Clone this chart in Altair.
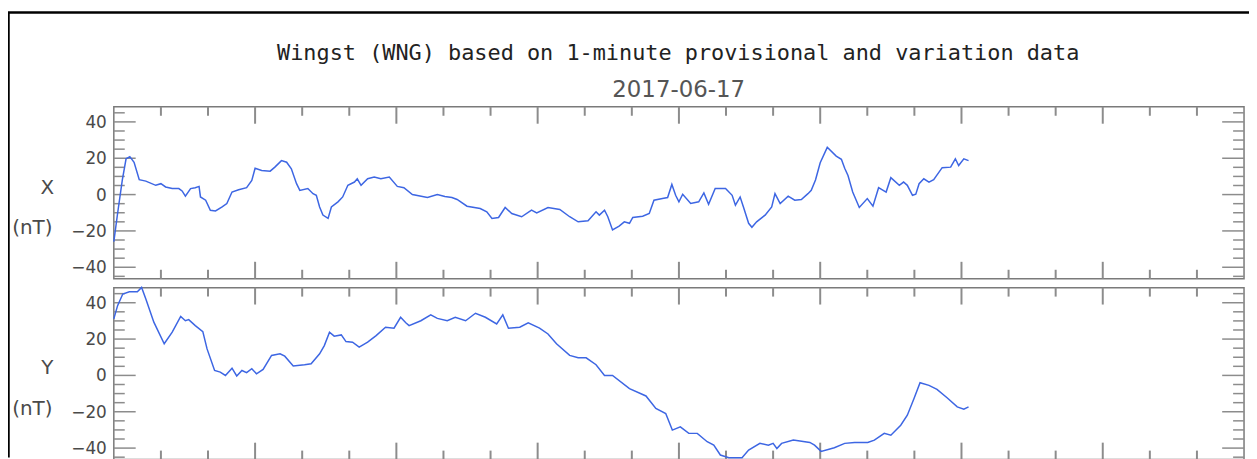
import altair as alt
import pandas as pd

# ---------------- data ----------------
title_text = "Wingst (WNG) based on 1-minute provisional and variation data"
date_text = "2017-06-17"
panel_names = ["X", "Y"]
unit_text = "(nT)"

x_hours = [0.00, 0.08, 0.18, 0.26, 0.34, 0.43, 0.54, 0.68, 0.89, 1.00, 1.10, 1.24, 1.38, 1.45,
           1.52, 1.63, 1.73, 1.81, 1.84, 1.95, 2.05, 2.16, 2.30, 2.40, 2.51, 2.65, 2.82, 2.93,
           3.00, 3.14, 3.32, 3.42, 3.56, 3.67, 3.77, 3.88, 3.95, 4.12, 4.23, 4.30, 4.37, 4.44,
           4.55, 4.62, 4.76, 4.86, 4.97, 5.11, 5.17, 5.25, 5.39, 5.53, 5.67, 5.85, 6.02, 6.16,
           6.34, 6.50, 6.66, 6.87, 7.03, 7.18, 7.29, 7.50, 7.78, 7.92, 8.03, 8.17, 8.31, 8.45,
           8.66, 8.87, 8.98, 9.22, 9.47, 9.68, 9.86, 10.07, 10.24, 10.31, 10.42, 10.49, 10.59,
           10.73, 10.84, 10.95, 11.02, 11.23, 11.37, 11.47, 11.65, 11.76, 11.85, 11.93, 12.00,
           12.08, 12.25, 12.42, 12.53, 12.63, 12.77, 12.99, 13.13, 13.20, 13.30, 13.37, 13.48,
           13.55, 13.65, 13.83, 13.97, 14.04, 14.15, 14.32, 14.46, 14.60, 14.74, 14.81, 14.90,
           15.00, 15.15, 15.34, 15.45, 15.52, 15.59, 15.69, 15.83, 16.00, 16.12, 16.24, 16.40,
           16.50, 16.68, 16.77, 16.85, 16.96, 17.03, 17.10, 17.20, 17.31, 17.41, 17.59, 17.77,
           17.87, 17.94, 18.05, 18.15]
x_values = [-25.9, -10.4, 8.0, 19.7, 20.9, 17.8, 8.2, 7.4, 5.1, 6.0, 4.2, 3.3, 3.3, 2.0,
            -0.9, 3.3, 3.8, 4.5, -1.3, -3.1, -8.6, -9.0, -6.8, -4.9, 1.4, 2.7, 3.8, 7.8,
            14.5, 13.3, 12.9, 15.1, 18.7, 17.8, 14.2, 6.0, 2.3, 3.3, 0.5, -0.4, -6.8, -11.3,
            -13.1, -6.8, -4.0, -1.3, 5.1, 6.9, 8.7, 5.1, 8.7, 9.6, 8.7, 9.6, 4.5, 3.8,
            0.0, -0.8, -1.6, 0.0, -1.0, -1.6, -2.7, -6.4, -7.7, -9.5, -13.1, -12.6, -7.1, -10.4,
            -12.2, -8.6, -10.1, -7.1, -8.2, -12.2, -15.0, -14.4, -9.5, -11.3, -8.6, -12.2, -19.5,
            -17.3, -15.0, -15.8, -12.6, -11.9, -10.4, -3.1, -2.2, -1.6, 5.6, -0.4, -4.0,
            0.2, -4.9, -4.0, 0.9, -5.3, 3.3, 3.3, -0.4, -5.8, -1.3, -6.8, -15.8,
            -18.0, -15.0, -11.3, -6.8, 0.5, -4.9, -0.9, -3.1, -2.7, 0.5, 2.3, 8.0,
            17.5, 26.0, 21.2, 19.4, 14.5, 10.5, 1.4, -7.1, -2.2, -6.4, 3.8, 1.4,
            9.3, 5.1, 6.9, 5.1, -0.4, 0.2, 6.0, 8.7, 6.9, 8.2, 14.8, 15.1,
            19.7, 16.0, 19.7, 18.7]

y_hours = [0.00, 0.08, 0.19, 0.33, 0.50, 0.59, 0.68, 0.85, 1.07, 1.24, 1.42, 1.52, 1.59, 1.73,
           1.89, 1.98, 2.14, 2.26, 2.37, 2.51, 2.61, 2.72, 2.82, 2.93, 3.03, 3.17, 3.35, 3.53,
           3.63, 3.81, 4.05, 4.19, 4.37, 4.47, 4.58, 4.68, 4.83, 4.93, 5.07, 5.21, 5.39, 5.57,
           5.77, 5.95, 6.09, 6.20, 6.27, 6.52, 6.73, 6.87, 7.08, 7.25, 7.47, 7.68, 7.89, 8.13,
           8.26, 8.38, 8.62, 8.80, 9.04, 9.22, 9.40, 9.68, 9.86, 10.03, 10.24, 10.42, 10.59,
           10.95, 11.30, 11.51, 11.72, 11.86, 12.03, 12.21, 12.39, 12.60, 12.74, 12.88, 13.06,
           13.34, 13.48, 13.72, 13.90, 14.00, 14.08, 14.18, 14.43, 14.78, 14.88, 15.02, 15.30,
           15.52, 15.73, 16.01, 16.15, 16.36, 16.50, 16.71, 16.85, 16.99, 17.12, 17.31, 17.48,
           17.70, 17.91, 18.05, 18.15]
y_values = [31.1, 38.4, 44.8, 46.0, 46.0, 48.4, 42.0, 29.3, 17.4, 23.8, 32.5, 30.1, 30.7, 27.4,
            24.1, 14.6, 2.7, 1.8, 0.0, 4.0, -0.3, 2.7, 1.5, 3.7, 0.9, 3.3, 11.0, 11.9,
            10.6, 5.2, 5.9, 6.4, 11.9, 16.4, 23.8, 21.6, 22.3, 18.6, 18.3, 15.6, 18.3, 21.9,
            26.5, 26.0, 32.0, 29.0, 27.4, 30.1, 33.3, 31.4, 30.1, 32.0, 30.1, 34.2, 32.0, 28.3,
            33.3, 26.0, 26.5, 28.9, 26.0, 22.8, 17.4, 11.0, 9.7, 9.7, 5.9, 0.0, 0.0,
            -7.3, -11.3, -18.2, -21.0, -30.1, -28.3, -31.9, -31.9, -36.5, -38.4, -43.8, -45.3,
            -45.3, -41.1, -37.4, -38.4, -37.4, -40.2, -37.4, -35.6, -36.9, -38.4, -41.8, -39.8,
            -37.4, -36.9, -36.9, -35.6, -31.9, -32.9, -27.4, -21.9, -12.8, -4.0, -5.5, -7.7,
            -12.4, -17.3, -18.6, -17.3]

major_y = [-40, -20, 0, 20, 40]
major_y_labels = ["\u221240", "\u221220", "0", "20", "40"]
minor_y = [-45, -35, -30, -25, -15, -10, -5, 5, 10, 15, 25, 30, 35, 45]
major_hours = [3, 6, 9, 12, 15, 18, 21]
minor_hours = [1, 2, 4, 5, 7, 8, 10, 11, 13, 14, 16, 17, 19, 20, 22, 23]

# ---------------- layout / style ----------------
W, H = 1249, 451
XL, XR = 106.5, 1244.0
Y_DOMAIN = [-46.3, 48.3]
PANELS = [(98.0, 271.0), (280.0, 453.0)]   # (top, bottom) of each panel
LINE_COLOR = "#3d66e3"
FRAME = "#7a7a7a"
TICK = "#8c8c8c"
TXT = "#4a4a4a"
SANS = "DejaVu Sans"

xscale = alt.Scale(domain=[0, 24], range=[XL, XR], nice=False, zero=False)
one = pd.DataFrame({"k": [0]})

layers = []

# outer border (top and left edges visible)
layers.append(alt.Chart(one).mark_rule(color="black", strokeWidth=2.5).encode(
    x=alt.value(0), x2=alt.value(W), y=alt.value(3)))
layers.append(alt.Chart(one).mark_rule(color="black", strokeWidth=2.5).encode(
    x=alt.value(0.5), y=alt.value(3), y2=alt.value(H)))

# title and date
layers.append(alt.Chart(pd.DataFrame({"t": [title_text]})).mark_text(
    font="DejaVu Sans Mono", fontSize=22, color="#222222", align="center",
    baseline="alphabetic").encode(text="t:N", x=alt.value(674.5), y=alt.value(51)))
layers.append(alt.Chart(pd.DataFrame({"t": [date_text]})).mark_text(
    font=SANS, fontSize=23, color="#555555", align="center",
    baseline="alphabetic").encode(text="t:N", x=alt.value(675), y=alt.value(88.5)))

series = [(x_hours, x_values), (y_hours, y_values)]

for (top, bot), name, (hrs, vals) in zip(PANELS, panel_names, series):
    yscale = alt.Scale(domain=Y_DOMAIN, range=[bot, top], nice=False, zero=False)
    yk = alt.Y("v:Q", scale=yscale, axis=None)

    # frame
    layers.append(alt.Chart(one).mark_rect(fillOpacity=0, stroke=FRAME, strokeWidth=1.5).encode(
        x=alt.value(XL), x2=alt.value(XR), y=alt.value(top), y2=alt.value(bot)))

    # y ticks (inside, left and right)
    for vals_t, ln in [(major_y, 22), (minor_y, 11)]:
        d = pd.DataFrame({"v": vals_t})
        layers.append(alt.Chart(d).mark_rule(color=TICK, strokeWidth=1.5).encode(
            y=yk, x=alt.value(XL), x2=alt.value(XL + ln)))
        layers.append(alt.Chart(d).mark_rule(color=TICK, strokeWidth=1.5).encode(
            y=yk, x=alt.value(XR - ln), x2=alt.value(XR)))

    # x ticks (inside, top and bottom)
    for hrs_t, ln in [(major_hours, 17), (minor_hours, 9)]:
        d = pd.DataFrame({"h": hrs_t})
        xk = alt.X("h:Q", scale=xscale, axis=None)
        layers.append(alt.Chart(d).mark_rule(color=TICK, strokeWidth=2).encode(
            x=xk, y=alt.value(top), y2=alt.value(top + ln)))
        layers.append(alt.Chart(d).mark_rule(color=TICK, strokeWidth=2).encode(
            x=xk, y=alt.value(bot - ln), y2=alt.value(bot)))

    # tick labels
    layers.append(alt.Chart(pd.DataFrame({"v": major_y, "lab": major_y_labels})).mark_text(
        font=SANS, fontSize=17, color=TXT, align="right", baseline="middle", dy=1).encode(
        y=yk, x=alt.value(99.5), text="lab:N"))

    # panel labels
    zero_px = bot - (0 - Y_DOMAIN[0]) / (Y_DOMAIN[1] - Y_DOMAIN[0]) * (bot - top)
    layers.append(alt.Chart(pd.DataFrame({"t": [name]})).mark_text(
        font=SANS, fontSize=20, color=TXT, align="center", baseline="alphabetic").encode(
        text="t:N", x=alt.value(39.5), y=alt.value(zero_px - 1)))
    layers.append(alt.Chart(pd.DataFrame({"t": [unit_text]})).mark_text(
        font=SANS, fontSize=20, color=TXT, align="center", baseline="alphabetic").encode(
        text="t:N", x=alt.value(24.5), y=alt.value(zero_px + 40)))

    # data line
    layers.append(alt.Chart(pd.DataFrame({"h": hrs, "v": vals})).mark_line(
        color=LINE_COLOR, strokeWidth=1.5).encode(
        x=alt.X("h:Q", scale=xscale, axis=None), y=yk))

chart = alt.layer(*layers).resolve_scale(y="independent").properties(
    width=W, height=H, padding=0,
    autosize=alt.AutoSizeParams(type="none"),
).configure_view(stroke=None)

chart.save("out.html", embed_options={"renderer": "svg", "actions": False})
